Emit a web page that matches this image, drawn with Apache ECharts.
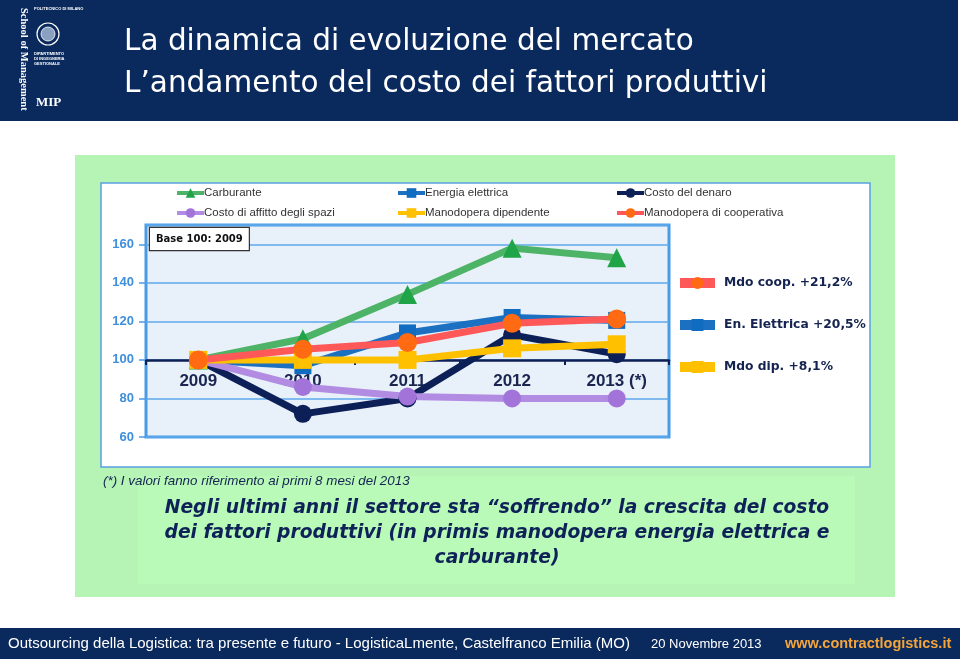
<!DOCTYPE html>
<html>
<head>
<meta charset="utf-8">
<script src="https://cdn.jsdelivr.net/npm/echarts@6/dist/echarts.min.js"></script>
<style>
html,body{margin:0;padding:0;background:#fff;}
#chart{width:960px;height:659px;}
</style>
</head>
<body>
<div id="chart"></div>
<script>
// ---- data ----
const categories = ['2009', '2010', '2011', '2012', '2013 (*)'];
const seriesNames = ['Carburante', 'Energia elettrica', 'Costo del denaro', 'Costo di affitto degli spazi', 'Manodopera dipendente', 'Manodopera di cooperativa'];
const carburante = [100, 111, 134, 158, 153];
const energiaElettrica = [100, 97, 114, 122, 120.5];
const costoDenaro = [100, 72, 80, 113, 103];
const costoAffitto = [100, 86, 81, 80, 80];
const manodoperaDipendente = [100, 100, 100, 106, 108.1];
const manodoperaCooperativa = [100, 105.5, 109, 119, 121.2];
const yTicks = { min: 60, max: 170, interval: 20, base: 100 };
const sideLabels = {
  'Manodopera di cooperativa': 'Mdo coop. +21,2%',
  'Energia elettrica': 'En. Elettrica +20,5%',
  'Manodopera dipendente': 'Mdo dip. +8,1%'
};

const NAVY = '#0a2a5e';
const FONT = '"Liberation Sans", Arial, sans-serif';
const WIDE = '"DejaVu Sans", Verdana, sans-serif';
const gridBox = { left: 146, top: 225, width: 523, height: 212 };
const baseOffset = -gridBox.height * (yTicks.base - yTicks.min) / (yTicks.max - yTicks.min);

function mkSeries(name, data, color, markerColor, symbol, size) {
  return {
    name: name, type: 'line', data: data,
    symbol: symbol, symbolSize: size,
    lineStyle: { color: color, width: 7 },
    itemStyle: { color: markerColor },
    emphasis: { disabled: true },
    animation: false
  };
}

const series = [
  mkSeries(seriesNames[0], carburante, '#4db366', '#1fa447', 'triangle', 19),
  mkSeries(seriesNames[1], energiaElettrica, '#1b70c2', '#106cc0', 'rect', 17),
  mkSeries(seriesNames[2], costoDenaro, '#0c1f56', '#0c1f56', 'circle', 18),
  mkSeries(seriesNames[3], costoAffitto, '#b28ce2', '#a274da', 'circle', 18),
  mkSeries(seriesNames[4], manodoperaDipendente, '#ffc000', '#ffc000', 'rect', 18),
  mkSeries(seriesNames[5], manodoperaCooperativa, '#ff5858', '#ff6a12', 'circle', 19)
];

function topLegend(left, names) {
  return {
    left: left, top: 187, orient: 'vertical', itemGap: 8, padding: 0,
    itemWidth: 27, itemHeight: 12,
    data: names, selectedMode: false,
    lineStyle: { width: 4 },
    textStyle: { color: '#333', fontSize: 11.5, fontFamily: FONT, padding: [0, 0, 0, -5] }
  };
}

const chart = echarts.init(document.getElementById('chart'), null, { renderer: 'canvas' });
chart.setOption({
  backgroundColor: '#ffffff',
  animation: false,
  legend: [
    topLegend(175, [seriesNames[0], seriesNames[3]]),
    topLegend(396, [seriesNames[1], seriesNames[4]]),
    topLegend(615, [seriesNames[2], seriesNames[5]]),
    {
      left: 675, top: 277, orient: 'vertical', itemGap: 30, padding: 0,
      itemWidth: 35, itemHeight: 15, selectedMode: false,
      data: ['Manodopera di cooperativa', 'Energia elettrica', 'Manodopera dipendente'],
      lineStyle: { width: 10 },
      formatter: function (n) { return sideLabels[n]; },
      textStyle: { color: '#14234f', fontSize: 12.3, fontWeight: 'bold', fontFamily: WIDE, padding: [0, 0, 0, 4] }
    }
  ],
  grid: {
    left: gridBox.left, top: gridBox.top, width: gridBox.width, height: gridBox.height,
    show: true, backgroundColor: '#e8f0f9', borderColor: '#4a9be6', borderWidth: 3
  },
  xAxis: {
    type: 'category', data: categories, boundaryGap: true,
    offset: baseOffset,
    axisLine: { onZero: false, lineStyle: { color: '#0c1f56', width: 2.5 } },
    axisTick: { show: true, length: 5, lineStyle: { color: '#0c1f56', width: 2 } },
    axisLabel: { color: '#1a2550', fontSize: 17, fontWeight: 'bold', fontFamily: FONT, margin: 13 },
    splitLine: { show: false }
  },
  yAxis: {
    type: 'value', min: yTicks.min, max: yTicks.max, interval: yTicks.interval,
    axisLine: { show: false },
    axisTick: { show: true, length: 7, lineStyle: { color: '#4a9be6', width: 1.5 } },
    axisLabel: { color: '#3f8fdb', fontSize: 13, fontWeight: 'bold', fontFamily: FONT, margin: 12, showMaxLabel: false },
    splitLine: { show: true, lineStyle: { color: '#5fa8ea', width: 1.5 } }
  },
  series: series,
  graphic: [
    // header band
    { type: 'rect', z: -20, shape: { x: 0, y: 0, width: 958, height: 121 }, style: { fill: NAVY } },
    { type: 'text', z: 5, x: 124, y: 42, style: { text: 'La dinamica di evoluzione del mercato', fill: '#fff', font: '29.5px ' + WIDE, verticalAlign: 'middle' } },
    { type: 'text', z: 5, x: 124, y: 84, style: { text: 'L\u2019andamento del costo dei fattori produttivi', fill: '#fff', font: '29.5px ' + WIDE, verticalAlign: 'middle' } },
    // logo elements
    { type: 'text', z: 5, x: 29, y: 8, rotation: -Math.PI / 2, style: { text: 'School of Management', fill: '#fff', font: 'bold 10.5px "Liberation Serif", serif' } },
    { type: 'text', z: 5, x: 34, y: 7, style: { text: 'POLITECNICO DI MILANO', fill: '#fff', font: 'bold 4px "Liberation Sans", sans-serif' } },
    { type: 'circle', z: 5, shape: { cx: 48, cy: 34, r: 11 }, style: { fill: 'none', stroke: '#fff', lineWidth: 1.2 } },
    { type: 'circle', z: 5, shape: { cx: 48, cy: 34, r: 7 }, style: { fill: '#8aa0c0', stroke: '#fff', lineWidth: 0.8 } },
    { type: 'text', z: 5, x: 34, y: 51, style: { text: 'DIPARTIMENTO\nDI INGEGNERIA\nGESTIONALE', fill: '#fff', font: 'bold 4px "Liberation Sans", sans-serif', lineHeight: 5 } },
    { type: 'text', z: 5, x: 36, y: 96, style: { text: 'MIP', fill: '#fff', font: 'bold 13px "Liberation Serif", serif' } },
    // green panel
    { type: 'rect', z: -20, shape: { x: 75, y: 155, width: 820, height: 442 }, style: { fill: '#b6f4b6' } },
    // white chart panel
    { type: 'rect', z: -19, shape: { x: 101, y: 183, width: 769, height: 284 }, style: { fill: '#ffffff', stroke: '#5aa0e0', lineWidth: 1.5 } },
    // base box
    { type: 'text', z: 20, x: 150, y: 228,
      style: { text: 'Base 100: 2009', fill: '#111', font: 'bold 10px ' + WIDE,
        backgroundColor: '#fff', borderColor: '#333', borderWidth: 1.2, padding: [6, 6, 6, 6] } },
    // footnote
    { type: 'text', z: 5, x: 103, y: 475, style: { text: '(*) I valori fanno riferimento ai primi 8 mesi del 2013', fill: '#14234f', font: 'italic 13.4px ' + FONT } },
    // inner green box
    { type: 'rect', z: -18, shape: { x: 138, y: 476, width: 717, height: 108 }, style: { fill: '#bafab9' } },
    { type: 'text', z: 5, x: 497, y: 496, style: {
        text: 'Negli ultimi anni il settore sta \u201csoffrendo\u201d la crescita del costo\ndei fattori produttivi (in primis manodopera energia elettrica e\ncarburante)',
        fill: '#0e2258', font: 'italic bold 18.7px ' + WIDE, align: 'center', lineHeight: 25 } },
    // footer
    { type: 'rect', z: -20, shape: { x: 0, y: 628, width: 960, height: 31 }, style: { fill: NAVY } },
    { type: 'text', z: 5, x: 8, y: 644, style: { text: 'Outsourcing della Logistica: tra presente e futuro - LogisticaLmente, Castelfranco Emilia (MO)', fill: '#fff', font: '15px ' + FONT, verticalAlign: 'middle' } },
    { type: 'text', z: 5, x: 651, y: 644, style: { text: '20 Novembre 2013', fill: '#fff', font: '13px ' + FONT, verticalAlign: 'middle' } },
    { type: 'text', z: 5, x: 785, y: 644, style: { text: 'www.contractlogistics.it', fill: '#f4a43a', font: 'bold 14.5px ' + FONT, verticalAlign: 'middle' } }
  ]
});
</script>
</body>
</html>
